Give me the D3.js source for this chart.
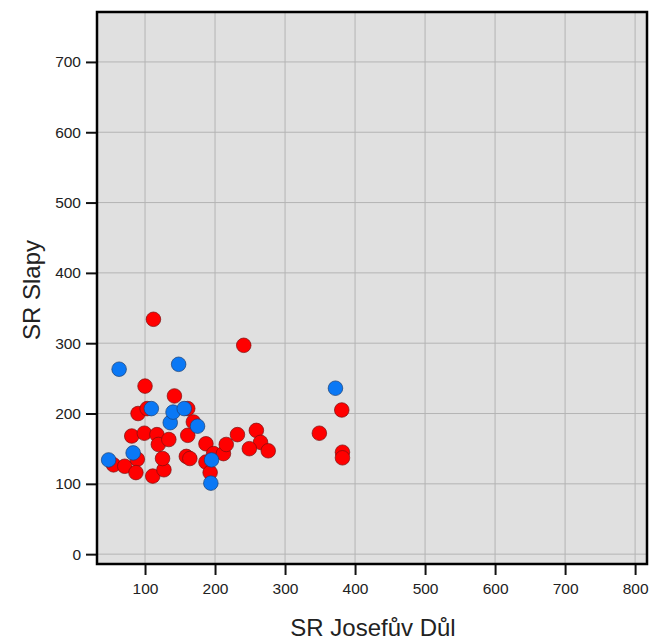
<html>
<head>
<script src="https://cdn.jsdelivr.net/npm/d3@7"></script>
<style>
  body { margin: 0; background: #fff; }
  text { font-family: "Liberation Sans", Arial, sans-serif; }
</style>
</head>
<body>
<div id="chart"></div>
<script>
// values
const xTicks = [100, 200, 300, 400, 500, 600, 700, 800];
const yTicks = [0, 100, 200, 300, 400, 500, 600, 700];

const redX = [112, 241, 100, 142, 90, 103, 161, 169, 81, 99, 117, 119, 134, 161, 187,
  55, 71, 89, 87, 111, 127, 125, 159, 164, 187, 193, 198, 212, 216, 232, 259, 265,
  249, 276, 381, 349, 382, 382];
const redY = [334, 297, 239, 225, 200, 207, 207, 188, 168, 172, 170, 156, 163, 169, 157,
  127, 125, 135, 116, 111, 120, 136, 139, 136, 131, 116, 143, 143, 156, 170, 176, 159,
  150, 147, 205, 172, 145, 137];

const blueX = [48, 63, 83, 109, 136, 140, 148, 156, 175, 195, 194, 372];
const blueY = [134, 263, 144, 207, 187, 202, 270, 207, 182, 134, 101, 236];

const width = 650, height = 643;
const margin = {top: 12, right: 3, bottom: 79, left: 97};

const svg = d3.select("#chart").append("svg")
    .attr("width", width)
    .attr("height", height);

const x = d3.scaleLinear()
    .domain([31.4, 817])
    .range([margin.left, width - margin.right]);
const y = d3.scaleLinear()
    .domain([-14, 771])
    .range([height - margin.bottom, margin.top]);

// panel
svg.append("rect")
    .attr("x", margin.left)
    .attr("y", margin.top)
    .attr("width", width - margin.left - margin.right)
    .attr("height", height - margin.top - margin.bottom)
    .attr("fill", "#e0e0e0");

// grid
svg.append("g")
  .selectAll("line")
  .data(xTicks)
  .enter().append("line")
    .attr("x1", d => x(d)).attr("x2", d => x(d))
    .attr("y1", margin.top).attr("y2", height - margin.bottom)
    .attr("stroke", "#b4b4b4").attr("stroke-width", 1);
svg.append("g")
  .selectAll("line")
  .data(yTicks)
  .enter().append("line")
    .attr("y1", d => y(d)).attr("y2", d => y(d))
    .attr("x1", margin.left).attr("x2", width - margin.right)
    .attr("stroke", "#b4b4b4").attr("stroke-width", 1);

// axes
const xAxis = svg.append("g")
    .attr("transform", "translate(0," + (height - margin.bottom) + ")")
    .call(d3.axisBottom(x).tickValues(xTicks).tickSize(11).tickPadding(8).tickSizeOuter(0));
const yAxis = svg.append("g")
    .attr("transform", "translate(" + margin.left + ",0)")
    .call(d3.axisLeft(y).tickValues(yTicks).tickSize(11).tickPadding(5).tickSizeOuter(0));

[xAxis, yAxis].forEach(function(a) {
  a.select(".domain").remove();
  a.selectAll(".tick line").attr("stroke", "#111").attr("stroke-width", 2);
  a.selectAll(".tick text")
    .attr("fill", "#222")
    .style("font-size", "15.5px")
    .style("font-family", "'Liberation Sans', Arial, sans-serif");
});

// points
svg.append("g")
  .selectAll("circle")
  .data(d3.range(redX.length))
  .enter().append("circle")
    .attr("cx", i => x(redX[i]))
    .attr("cy", i => y(redY[i]))
    .attr("r", 7.3)
    .attr("fill", "#ff0000")
    .attr("stroke", "#7a1010")
    .attr("stroke-width", 0.7);

svg.append("g")
  .selectAll("circle")
  .data(d3.range(blueX.length))
  .enter().append("circle")
    .attr("cx", i => x(blueX[i]))
    .attr("cy", i => y(blueY[i]))
    .attr("r", 7.3)
    .attr("fill", "#0a78f5")
    .attr("stroke", "#1b3f73")
    .attr("stroke-width", 0.7);

// border
svg.append("rect")
    .attr("x", margin.left)
    .attr("y", margin.top)
    .attr("width", width - margin.left - margin.right)
    .attr("height", height - margin.top - margin.bottom)
    .attr("fill", "none")
    .attr("stroke", "#000")
    .attr("stroke-width", 2.5);

// axis titles
svg.append("text")
    .attr("x", 373)
    .attr("y", 636)
    .attr("text-anchor", "middle")
    .attr("fill", "#222")
    .style("font-size", "24px")
    .text("SR Josefův Důl");

svg.append("text")
    .attr("transform", "translate(40,290) rotate(-90)")
    .attr("text-anchor", "middle")
    .attr("fill", "#222")
    .style("font-size", "24px")
    .text("SR Slapy");
</script>
</body>
</html>
